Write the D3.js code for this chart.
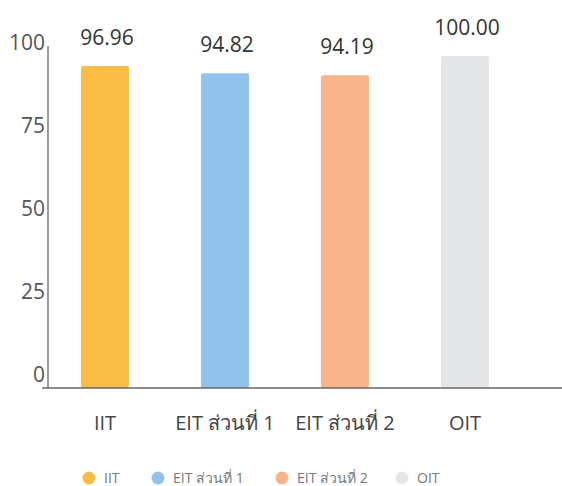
<!DOCTYPE html>
<html><head><meta charset="utf-8">
<script src="https://cdn.jsdelivr.net/npm/d3@7"></script>
<style>body{margin:0;background:#fff;}svg{display:block;font-family:"Open Sans","Noto Sans",sans-serif;}</style>
</head><body>
<svg id="c" width="562" height="486"></svg>
<script>
const categories = ["IIT", "EIT ส่วนที่ 1", "EIT ส่วนที่ 2", "OIT"];
const values = [96.96, 94.82, 94.19, 100.00];
const colors = ["#F9BD45", "#92C2EE", "#F9B48C", "#E4E6E8"];
const yTicks = [0, 25, 50, 75, 100];

const svg = d3.select("#c");
const x = d3.scaleBand().domain(categories).range([45, 525]).paddingInner(0.6).paddingOuter(0.3);
const y = d3.scaleLinear().domain([0, 100]).range([388, 56]);

// y tick labels
svg.append("g").selectAll("text").data(yTicks).join("text")
  .attr("x", 45).attr("y", d => y(d) - 6)
  .attr("text-anchor", "end").attr("fill", "#555").attr("font-size", 21)
  .text(d => d);

// bars
svg.append("g").selectAll("rect").data(values).join("rect")
  .attr("x", (d, i) => x(categories[i])).attr("width", x.bandwidth())
  .attr("y", d => y(d)).attr("height", d => y(0) - y(d))
  .attr("rx", 2).attr("fill", (d, i) => colors[i]);

// axes lines
svg.append("line").attr("x1", 48).attr("x2", 48).attr("y1", 46).attr("y2", 388).attr("stroke", "#666").attr("stroke-width", 1.3);
svg.append("line").attr("x1", 42).attr("x2", 562).attr("y1", 388).attr("y2", 388).attr("stroke", "#666").attr("stroke-width", 1.3);

// value labels
svg.append("g").selectAll("text").data(values).join("text")
  .attr("x", (d, i) => x(categories[i]) + x.bandwidth() / 2 + 2)
  .attr("y", d => y(d) - 21)
  .attr("text-anchor", "middle").attr("fill", "#333").attr("font-size", 21)
  .text(d => d.toFixed(2));

// category labels
svg.append("g").selectAll("text").data(categories).join("text")
  .attr("x", d => x(d) + x.bandwidth() / 2)
  .attr("y", 430)
  .attr("text-anchor", "middle").attr("fill", "#444").attr("font-size", 20)
  .text(d => d);

// legend
const legX = [89, 158, 282, 402];
const lg = svg.append("g").selectAll("g").data(categories).join("g")
  .attr("transform", (d, i) => `translate(${legX[i]},478)`);
lg.append("circle").attr("r", 6.5).attr("fill", (d, i) => colors[i]);
lg.append("text").attr("x", 15).attr("y", 5).attr("fill", "#777").attr("font-size", 14).text(d => d);
</script>
</body></html>
